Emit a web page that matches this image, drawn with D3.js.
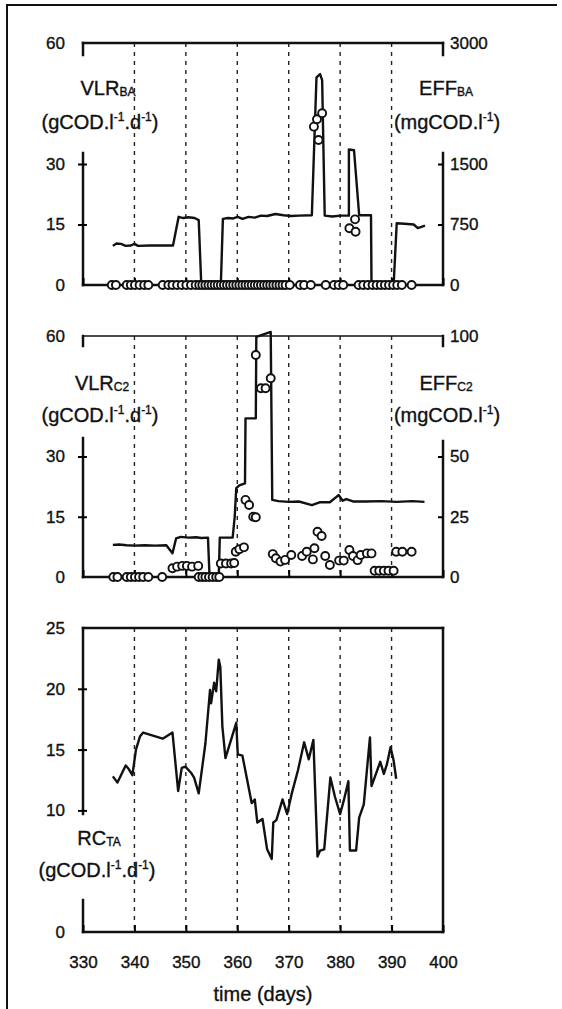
<!DOCTYPE html>
<html>
<head>
<meta charset="utf-8">
<script src="https://cdn.jsdelivr.net/npm/d3@7"></script>
<style>
  body { margin: 0; background: #fff; }
  svg { display: block; }
  text { font-family: "Liberation Sans", Arial, sans-serif; fill: #111; stroke: #111; stroke-width: 0.35px; }
</style>
</head>
<body>
<svg id="fig" width="562" height="1009"></svg>
<script>
// ---- axis ticks ----
const xTickDays = [330, 340, 350, 360, 370, 380, 390, 400];
const gridDays = [340, 350, 360, 370, 380, 390];
const vlrTicks = [0, 15, 30, 60];
const effBATicks = [0, 750, 1500, 3000];
const effC2Ticks = [0, 25, 50, 100];
const rcTicks = [0, 10, 15, 20, 25];

// ---- volumetric loading rate, BA reactor (gCOD/l/d) ----
const vlrBA = [
  [335.8, 9.7], [336.5, 10.3], [337.4, 10.2], [338.3, 9.7], [339.3, 9.8], [340.0, 10.2],
  [340.7, 9.7], [343.0, 9.8], [345.0, 9.8], [347.5, 9.8], [348.6, 16.9], [349.5, 16.6],
  [350.5, 16.8], [351.7, 16.6], [352.5, 16.1], [353.0, 0], [356.8, 0], [357.2, 16.4],
  [358.2, 16.6], [359.2, 16.5], [360.1, 16.9], [361.0, 16.4], [362.2, 16.9], [363.4, 16.7],
  [364.6, 17.2], [365.8, 17.1], [367.4, 17.6], [369.0, 17.3], [370.5, 17.1], [372.0, 17.2],
  [374.5, 17.3], [375.4, 51.5], [376.1, 52.3], [376.5, 50.8], [377.0, 17.2], [378.5, 17.0],
  [380.0, 17.2], [381.7, 17.2], [381.7, 33.6], [382.7, 33.4], [383.7, 17.3], [386.0, 17.3],
  [386.1, 0], [390.4, 0], [391.0, 15.3], [392.5, 15.2], [394.3, 15.0], [395.1, 14.1],
  [395.8, 14.4], [396.5, 14.7]
];

// ---- effluent COD, BA reactor (mgCOD/l) ----
const effBA = [
  [335.6, 0], [336.4, 0], [338.5, 0], [339.3, 0], [340.1, 0], [341.0, 0], [341.9, 0], [342.7, 0],
  [345.5, 0], [346.6, 0], [347.4, 0], [348.3, 0], [349.2, 0], [350.1, 0], [351.0, 0], [351.9, 0],
  [352.6, 0], [353.2, 0], [353.8, 0], [354.4, 0], [355.0, 0], [355.6, 0], [356.2, 0], [356.8, 0],
  [357.4, 0], [358.0, 0], [358.6, 0], [359.2, 0], [359.8, 0], [360.4, 0], [361.0, 0], [361.6, 0],
  [362.2, 0], [362.8, 0], [363.4, 0], [364.0, 0], [364.6, 0], [365.2, 0], [365.8, 0], [366.4, 0],
  [367.0, 0], [367.6, 0], [368.2, 0], [368.8, 0], [369.4, 0], [370.2, 0], [372.2, 0], [373.0, 0],
  [374.3, 0], [377.2, 0], [378.8, 0], [379.7, 0], [380.6, 0], [383.6, 0], [384.5, 0], [385.4, 0],
  [386.3, 0], [387.1, 0], [387.9, 0], [388.7, 0], [389.5, 0], [390.3, 0], [391.1, 0], [392.0, 0],
  [393.9, 0],
  [374.9, 1963], [375.5, 2054], [375.8, 1798], [376.5, 2129],
  [381.8, 703], [382.9, 814], [383.0, 661]
];

// ---- volumetric loading rate, C2 reactor (gCOD/l/d) ----
const vlrC2 = [
  [335.8, 8.0], [337.0, 8.1], [338.5, 7.9], [340.0, 7.8], [342.0, 7.9], [344.0, 7.8],
  [346.2, 7.9], [347.4, 5.9], [348.1, 9.6], [349.0, 10.0], [350.5, 9.8], [352.0, 9.9],
  [353.0, 9.7], [354.3, 9.8], [354.6, 0.3], [356.4, 0.3], [356.6, 9.8], [359.1, 9.8],
  [359.5, 15.0], [359.8, 22.1], [360.4, 22.8], [361.5, 23.3], [361.6, 39.5], [363.6, 39.5],
  [363.7, 59.8], [366.5, 61.0], [366.8, 19.2], [368.0, 18.9], [370.0, 18.7], [372.0, 18.8],
  [374.5, 17.9], [376.0, 18.6], [378.0, 18.6], [379.7, 20.4], [380.5, 19.0], [381.2, 19.4],
  [382.5, 18.8], [385.0, 18.8], [388.0, 18.9], [391.0, 18.7], [394.0, 18.9], [396.4, 18.7]
];

// ---- effluent COD, C2 reactor (mgCOD/l) ----
const effC2 = [
  [335.9, 0], [336.7, 0], [338.5, 0], [339.3, 0], [340.1, 0], [340.9, 0], [341.7, 0], [342.7, 0],
  [345.4, 0],
  [347.4, 3.6], [348.3, 4.3], [349.3, 4.6], [350.2, 4.6], [351.2, 4.3], [352.4, 4.6],
  [352.5, 0], [353.2, 0], [353.8, 0], [354.5, 0], [355.2, 0], [355.9, 0], [356.5, 0],
  [356.8, 5.6], [357.8, 5.6], [358.8, 5.6], [359.4, 5.8],
  [359.7, 10.5], [360.4, 11.5], [361.3, 12.3],
  [361.6, 32.0], [362.3, 29.9], [363.1, 25.0], [363.6, 24.8],
  [363.6, 92.1], [364.6, 78.3], [365.5, 78.3], [366.5, 82.5],
  [366.9, 9.5], [367.5, 7.8], [368.4, 6.4], [369.3, 7.1], [370.5, 9.1], [372.6, 8.7],
  [373.5, 10.5], [374.7, 7.3], [375.0, 11.9], [375.6, 18.8], [376.4, 17.0], [377.1, 8.7],
  [378.0, 5.0], [379.8, 6.8], [380.7, 6.8], [381.8, 11.2], [382.5, 8.7], [383.4, 7.0],
  [384.0, 9.1], [385.2, 9.8], [386.1, 9.8],
  [386.7, 2.6], [387.6, 2.6], [388.5, 2.6], [389.4, 2.6], [390.4, 2.6],
  [390.9, 10.5], [392.1, 10.5], [393.9, 10.5]
];

// ---- removal capacity, TA (gCOD/l/d) ----
const rcTA = [
  [335.8, 12.8], [336.7, 12.3], [338.3, 13.7], [338.9, 13.4], [339.6, 12.9], [340.3, 15.0],
  [341.1, 16.1], [341.7, 16.4], [345.5, 15.9], [347.4, 16.4], [348.5, 11.6], [349.2, 13.5],
  [349.9, 13.6], [351.0, 13.1], [351.6, 12.7], [352.5, 11.4], [353.8, 15.5], [354.7, 19.9],
  [354.9, 18.8], [355.5, 20.5], [355.9, 19.8], [356.4, 22.4], [356.7, 21.8], [357.1, 16.9],
  [357.7, 14.3], [359.8, 17.2], [360.1, 14.6], [361.0, 14.5], [362.8, 10.6], [363.4, 10.9],
  [363.9, 9.0], [364.9, 9.3], [365.8, 6.8], [366.7, 6.0], [367.0, 9.0], [367.6, 9.2],
  [368.8, 10.9], [369.7, 9.7], [370.6, 11.4], [371.8, 13.3], [373.0, 15.6], [373.9, 14.2],
  [374.8, 15.8], [375.6, 6.2], [376.1, 6.7], [376.9, 6.8], [378.1, 12.7], [379.0, 11.1],
  [380.0, 9.7], [380.7, 10.8], [381.6, 12.4], [381.9, 6.7], [383.1, 6.7], [383.7, 9.4],
  [384.6, 10.5], [385.2, 13.3], [385.8, 16.0], [386.1, 12.0], [386.7, 12.7], [387.8, 14.0],
  [388.5, 13.0], [389.1, 13.8], [389.8, 15.2], [390.4, 14.1], [390.9, 12.6]
];

// ---------------------------------------------------------------
const svg = d3.select("#fig");
svg.append("rect").attr("width", 562).attr("height", 1009).attr("fill", "#fff");

const X0 = 83, X1 = 443;
const x = d3.scaleLinear().domain([330, 400]).range([X0, X1]);

const TICK_FONT = 17;
const LABEL_FONT = 20;
const SUB_FONT = 12;
const AXIS_W = 2.5;

// outer figure border
svg.append("path")
  .attr("d", "M7,1009 V5 H557")
  .attr("fill", "none").attr("stroke", "#111").attr("stroke-width", 2);

function label(g, cx, y, main, sub) {
  const t = g.append("text").attr("x", cx).attr("y", y)
    .attr("text-anchor", "middle").attr("font-size", LABEL_FONT);
  t.append("tspan").text(main);
  t.append("tspan").attr("font-size", SUB_FONT).attr("dy", 1).text(sub);
}

function unitLabel(g, cx, y, withDay) {
  const t = g.append("text").attr("x", cx).attr("y", y)
    .attr("text-anchor", "middle").attr("font-size", LABEL_FONT);
  t.append("tspan").text(withDay ? "(gCOD.l" : "(mgCOD.l");
  t.append("tspan").attr("font-size", SUB_FONT).attr("dy", -8).text("-1");
  if (withDay) {
    t.append("tspan").attr("dy", 8).text(".d");
    t.append("tspan").attr("font-size", SUB_FONT).attr("dy", -8).text("-1");
  }
  t.append("tspan").attr("dy", 8).text(")");
}

function panel(cfg) {
  const g = svg.append("g");
  const y = d3.scaleLinear().domain(cfg.leftDomain).range([cfg.bottom, cfg.top]);

  // dashed day grid
  g.append("g").selectAll("line").data(gridDays).join("line")
    .attr("x1", d => x(d)).attr("x2", d => x(d))
    .attr("y1", cfg.top).attr("y2", cfg.bottom)
    .attr("stroke", "#222").attr("stroke-width", 1.4)
    .attr("stroke-dasharray", "4,5");

  // frame: top, bottom and broken side axes
  const frame = g.append("g").attr("fill", "none").attr("stroke", "#111")
    .attr("stroke-width", AXIS_W).attr("stroke-linecap", "square");
  frame.append("line").attr("x1", X0).attr("x2", X1).attr("y1", cfg.top).attr("y2", cfg.top)
    .attr("stroke-width", cfg.topW || AXIS_W);
  frame.append("line").attr("x1", X0).attr("x2", X1).attr("y1", cfg.bottom).attr("y2", cfg.bottom);
  cfg.leftSegs.forEach(s => frame.append("line").attr("x1", X0).attr("x2", X0).attr("y1", s[0]).attr("y2", s[1]));
  cfg.rightSegs.forEach(s => frame.append("line").attr("x1", X1).attr("x2", X1).attr("y1", s[0]).attr("y2", s[1]));

  const fmt = d3.format("d");

  // left axis ticks and labels
  const la = g.append("g").attr("transform", `translate(${X0},0)`)
    .call(d3.axisLeft(y).tickValues(cfg.leftTicks).tickFormat(fmt)
      .tickSizeInner(5).tickSizeOuter(0).tickPadding(13));
  la.select(".domain").remove();
  la.selectAll(".tick line").attr("stroke-width", 2).attr("x1", 4)
    .filter(d => d === cfg.leftDomain[0] || d === cfg.leftDomain[1]).remove();
  la.selectAll(".tick text").attr("font-size", TICK_FONT).attr("font-family", null);

  // right axis ticks and labels
  if (cfg.rightTicks) {
    const yr = d3.scaleLinear().domain(cfg.rightDomain).range([cfg.bottom, cfg.top]);
    const ra = g.append("g").attr("transform", `translate(${X1},0)`)
      .call(d3.axisRight(yr).tickValues(cfg.rightTicks).tickFormat(fmt)
        .tickSizeInner(5).tickSizeOuter(0).tickPadding(4));
    ra.select(".domain").remove();
    ra.selectAll(".tick line").attr("stroke-width", 2).attr("x1", -5).attr("x2", 0)
      .filter(d => d === cfg.rightDomain[0] || d === cfg.rightDomain[1]).remove();
    ra.selectAll(".tick text").attr("font-size", TICK_FONT).attr("font-family", null)
      .attr("x", 7);
    cfg.yr = yr;
  }

  // bottom ticks, pointing inward
  const ba = g.append("g").attr("transform", `translate(0,${cfg.bottom})`)
    .call(d3.axisBottom(x).tickValues(xTickDays).tickFormat(fmt)
      .tickSizeInner(-7).tickSizeOuter(0).tickPadding(24));
  ba.select(".domain").remove();
  ba.selectAll(".tick line").attr("stroke-width", 2);
  if (cfg.xLabels) {
    ba.selectAll(".tick text").attr("font-size", TICK_FONT).attr("font-family", null);
  } else {
    ba.selectAll(".tick text").remove();
  }

  cfg.g = g; cfg.y = y;
  return cfg;
}

const lineStyle = sel => sel.attr("fill", "none").attr("stroke", "#111")
  .attr("stroke-width", 2.4).attr("stroke-linejoin", "round");

function drawLine(cfg, data) {
  const ln = d3.line().x(d => x(d[0])).y(d => cfg.y(d[1]));
  cfg.g.append("path").datum(data).attr("d", ln).call(lineStyle);
}

function drawCircles(cfg, data) {
  cfg.g.append("g").selectAll("circle").data(data).join("circle")
    .attr("cx", d => x(d[0])).attr("cy", d => cfg.yr(d[1])).attr("r", 4)
    .attr("fill", "#fff").attr("stroke", "#111").attr("stroke-width", 1.9);
}

// ---- panel 1: VLR_BA / EFF_BA ----
const p1 = panel({
  top: 43, bottom: 285, leftDomain: [0, 60], rightDomain: [0, 3000],
  leftTicks: vlrTicks, rightTicks: effBATicks,
  leftSegs: [[43, 55], [153, 285]], rightSegs: [[43, 55], [153, 285]]
});
drawLine(p1, vlrBA);
drawCircles(p1, effBA);
label(p1.g, 108, 95, "VLR", "BA");
unitLabel(p1.g, 100, 129, true);
label(p1.g, 446, 95, "EFF", "BA");
unitLabel(p1.g, 447, 129, false);

// ---- panel 2: VLR_C2 / EFF_C2 ----
const p2 = panel({
  top: 336, bottom: 577, leftDomain: [0, 60], rightDomain: [0, 100],
  leftTicks: vlrTicks, rightTicks: effC2Ticks, topW: 1.6,
  leftSegs: [[336, 346], [438, 577]], rightSegs: [[336, 346], [441, 577]]
});
drawLine(p2, vlrC2);
drawCircles(p2, effC2);
label(p2.g, 102, 390, "VLR", "C2");
unitLabel(p2.g, 100, 422, true);
label(p2.g, 446, 390, "EFF", "C2");
unitLabel(p2.g, 447, 422, false);

// ---- panel 3: RC_TA ----
const p3 = panel({
  top: 628, bottom: 932, leftDomain: [0, 25],
  leftTicks: rcTicks, xLabels: true,
  leftSegs: [[628, 814], [900, 932]], rightSegs: [[628, 932]]
});
drawLine(p3, rcTA);
label(p3.g, 99, 845, "RC", "TA");
unitLabel(p3.g, 97, 877, true);

svg.append("text").attr("x", 263).attr("y", 1001).attr("text-anchor", "middle")
  .attr("font-size", LABEL_FONT).text("time (days)");
</script>
</body>
</html>
